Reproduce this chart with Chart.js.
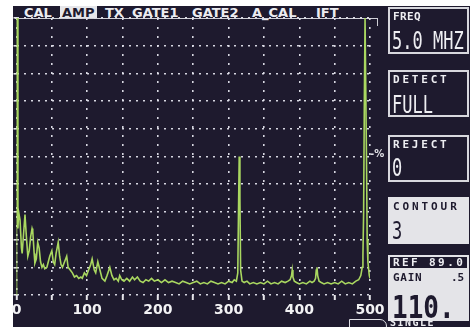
<!DOCTYPE html>
<html lang="en">

<head>
    <meta charset="UTF-8">
    <title>A-scan</title>
    <style>
        body { margin: 0; width: 470px; height: 327px; background: #fff; overflow: hidden; position: relative; font-family: "DejaVu Sans Mono", monospace; }
        .tela { position: absolute; left: 13px; top: 6px; width: 457px; height: 321px; background: #1e1a2e; }
        .grafico { position: absolute; left: 0; top: 0; width: 388px; height: 327px; }
        .menu span { position: absolute; top: 6px; font: bold 13px "DejaVu Sans", sans-serif; color: #ececf0; line-height: 13px; }
        .menu .ativo { background: #e6e6ea; color: #1e1a2e; padding: 0 2px; }
        .colchete { position: absolute; left: 15px; top: 18px; width: 362px; height: 7px; border-top: 1.5px solid #cfcfd6; border-right: 1.5px solid #cfcfd6; }
        .caixa { position: absolute; left: 388px; width: 77px; border: 2px solid #d8d8de; color: #eeeef2; }
        .rotulo { position: absolute; left: 3px; top: 2px; font: bold 11px "DejaVu Sans Mono", monospace; line-height: 11px; }
        .valor { position: absolute; left: 2px; font: 17px "DejaVu Sans Mono", monospace; line-height: 17px; transform: scaleY(1.5); transform-origin: top left; }
        .clara { background: #e4e4e8; color: #1e1a2e; border-color: #e4e4e8; }
        .faixa { position: absolute; left: 0; top: 0; right: 0; height: 11px; background: #1e1a2e; color: #eeeef2; font: bold 11px "DejaVu Sans Mono", monospace; line-height: 11px; padding-left: 3px; letter-spacing: 2.4px; }
        .marca { position: absolute; left: 370px; top: 148px; color: #e0e0e6; font: bold 10px "DejaVu Sans", sans-serif; }
        .seta { position: absolute; left: 349px; top: 319px; width: 36px; height: 12px; border: 1.5px solid #e0e0e6; border-radius: 0 7px 7px 0; }
        .single { position: absolute; left: 390px; top: 318px; color: #eeeef2; font: bold 10px "DejaVu Sans Mono", monospace; letter-spacing: 1.5px; line-height: 10px; }
    </style>
</head>

<body>

    <div class="tela"></div>

    <div class="menu">
        <span style="left:24px">CAL</span>
        <span class="ativo" style="left:60px">AMP</span>
        <span style="left:105px">TX</span>
        <span style="left:132px">GATE1</span>
        <span style="left:192px">GATE2</span>
        <span style="left:252px">A_CAL</span>
        <span style="left:316px">IFT</span>
    </div>
    <div class="colchete"></div>

    <div class="grafico">
        <canvas id="myChart"></canvas>
    </div>

    <div class="marca">-%</div>

    <div class="caixa" style="top:7px; height:43px">
        <div class="rotulo" style="letter-spacing:0.4px">FREQ</div>
        <div class="valor" style="top:19px">5.0 MHZ</div>
    </div>

    <div class="caixa" style="top:70px; height:43px">
        <div class="rotulo" style="letter-spacing:2.8px">DETECT</div>
        <div class="valor" style="top:20px">FULL</div>
    </div>

    <div class="caixa" style="top:135px; height:43px">
        <div class="rotulo" style="letter-spacing:2.8px">REJECT</div>
        <div class="valor" style="top:18px">0</div>
    </div>

    <div class="caixa clara" style="top:197px; height:43px">
        <div class="rotulo" style="letter-spacing:2.9px">CONTOUR</div>
        <div class="valor" style="top:19px">3</div>
    </div>

    <div class="caixa clara" style="top:255px; height:62px">
        <div class="faixa">REF 89.0</div>
        <div class="rotulo" style="top:15px; letter-spacing:0.7px">GAIN</div>
        <div class="rotulo" style="top:15px; left:61px">.5</div>
        <div class="valor" style="top:33px; font-weight:bold; font-size:26px; line-height:26px; transform:scaleY(1.25)">110.</div>
    </div>

    <div class="seta"></div>
    <div class="single">SINGLE</div>

    <script src="https://cdn.jsdelivr.net/npm/chart.js"></script>

</body>

</html>

<script>
    // eixo horizontal (distancia) e amplitude em % da tela
    const distancia = [0, 0, 1, 2, 3, 5, 7, 8, 10, 12, 14, 16, 18, 20, 22, 23, 25, 26, 28, 30,
        32, 34, 36, 38, 40, 43, 45, 47, 50, 52, 54, 56, 59, 61, 63, 65, 68, 71, 73, 76,
        79, 82, 85, 88, 91, 93, 96, 99, 102, 105, 107, 110, 112, 115, 118, 121, 125, 128, 132, 135,
        138, 141, 144, 146, 149, 152, 156, 160, 164, 167, 171, 175, 179, 183, 187, 191, 195, 200, 205, 210,
        215, 220, 225, 230, 235, 240, 245, 250, 255, 260, 265, 270, 275, 280, 285, 290, 295, 300, 305, 308,
        311, 313, 314, 315, 316, 317, 319, 322, 326, 330, 335, 340, 345, 350, 355, 360, 365, 370, 375, 380,
        384, 387, 389, 390, 391, 393, 396, 400, 405, 410, 415, 418, 421, 423, 424, 425, 426, 428, 431, 435,
        440, 445, 450, 455, 460, 465, 470, 475, 480, 484, 487, 489, 490, 491, 492, 493, 494, 495, 496, 497,
        499, 500];

    const amplitude = [0, 100, 100, 24, 30, 27, 17, 15, 22, 29, 21, 14, 16, 21, 24, 23, 15, 11.5, 13, 19,
        17, 12, 10, 11, 9.5, 10, 12, 14, 16, 12, 11, 15, 19, 14, 11, 10, 12, 14, 10, 9,
        8, 6.5, 7, 6, 6.5, 6, 8, 7, 9, 11, 13, 9, 8, 12, 9, 6, 5, 7, 10, 7,
        5.5, 6, 5, 7, 5.5, 5, 6, 5, 6.5, 5.5, 6.5, 5, 4.5, 5.5, 5, 6, 5, 5.5, 4.5, 5.5,
        4.5, 5, 4.5, 4, 5, 4.5, 4, 4.5, 5, 4, 4.5, 4, 5, 4.5, 4, 4.5, 4, 5, 4.5, 5.5,
        5, 8, 30, 50, 35, 9, 5, 4.5, 5, 4, 4.5, 4, 4.5, 4, 5, 4, 4.5, 4, 5, 4.5,
        5, 5.5, 7, 9, 6.5, 5, 4.5, 4, 4.5, 4, 5, 4.5, 5, 6, 9, 10, 7, 5, 4.5, 4,
        4.5, 4, 4.5, 4, 5, 4, 4.5, 4, 5, 5.5, 7, 10, 14, 30, 70, 100, 100, 50, 20, 12,
        7, 6];

    const rotulosX = ['0', '100', '200', '300', '400', '500'];

    const pontos = distancia.map((d, i) => ({ x: d, y: amplitude[i] }));

    const config = {
        type: 'scatter',
        data: {
            datasets: [{
                data: pontos,
                showLine: true,
                pointRadius: 0,
                borderColor: '#a9d760',
                borderWidth: 1.6,
                tension: 0
            }]
        },
        options: {
            responsive: true,
            maintainAspectRatio: false,
            animation: false,
            layout: { padding: { top: 18, left: 0, right: 18, bottom: 0 } },
            plugins: {
                legend: { display: false },
                tooltip: { enabled: false }
            },
            scales: {
                x: {
                    type: 'linear',
                    min: 0,
                    max: 500,
                    afterFit: (s) => { s.height = 32 },
                    ticks: {
                        stepSize: 50,
                        autoSkip: false,
                        maxRotation: 0,
                        padding: 2,
                        color: '#f2f2f4',
                        font: { family: 'DejaVu Sans', weight: 'bold', size: 14 },
                        callback: (v) => v % 100 === 0 ? rotulosX[v / 100] : ''
                    },
                    grid: {
                        color: 'rgba(225,225,235,0.95)',
                        lineWidth: 1.6,
                        drawTicks: true,
                        tickLength: 5,
                        tickColor: '#e6e6ea',
                        tickWidth: 2
                    },
                    border: { display: false, dash: [2, 7] }
                },
                y: {
                    min: 0,
                    max: 100,
                    afterFit: (s) => { s.width = 16.5 },
                    ticks: { stepSize: 10, display: false },
                    grid: {
                        color: 'rgba(225,225,235,0.95)',
                        lineWidth: 1.6,
                        drawTicks: true,
                        tickLength: 3,
                        tickColor: '#e6e6ea'
                    },
                    border: { display: false, dash: [2, 5] }
                }
            }
        }
    };

    const myChart = new Chart(
        document.getElementById('myChart'),
        config
    );
</script>
